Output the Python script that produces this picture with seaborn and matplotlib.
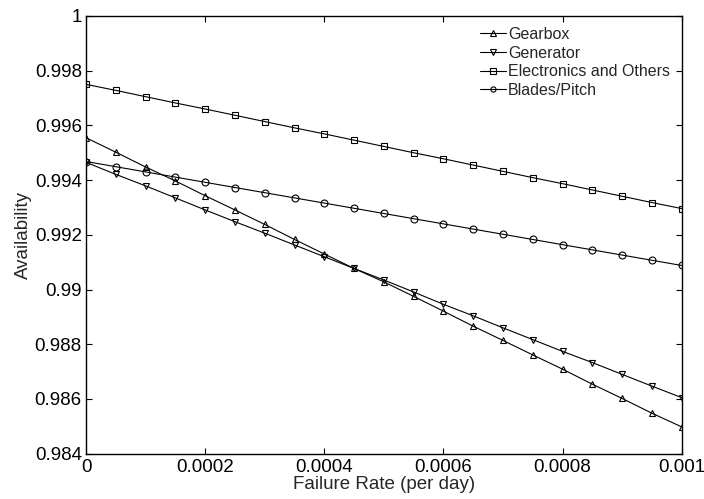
import numpy as np
import pandas as pd
import matplotlib
matplotlib.use("Agg")
import matplotlib.pyplot as plt
import seaborn as sns

# Failure rate (per day)
failure_rate = [0.0, 0.00005, 0.0001, 0.00015, 0.0002, 0.00025, 0.0003, 0.00035,
                0.0004, 0.00045, 0.0005, 0.00055, 0.0006, 0.00065, 0.0007, 0.00075,
                0.0008, 0.00085, 0.0009, 0.00095, 0.001]

gearbox = [0.99555, 0.99502, 0.99448, 0.99397, 0.99343, 0.99291, 0.99238, 0.99183,
           0.99130, 0.99077, 0.99028, 0.98975, 0.98921, 0.98866, 0.98814, 0.98761,
           0.98709, 0.98654, 0.98602, 0.98548, 0.98498]
generator = [0.99465, 0.99421, 0.99379, 0.99335, 0.99291, 0.99248, 0.99206, 0.99163,
             0.99120, 0.99077, 0.99035, 0.98991, 0.98946, 0.98904, 0.98860, 0.98817,
             0.98774, 0.98733, 0.98690, 0.98647, 0.98605]
electronics = [0.99750, 0.99728, 0.99705, 0.99682, 0.99660, 0.99637, 0.99614, 0.99591,
               0.99569, 0.99546, 0.99523, 0.99500, 0.99478, 0.99455, 0.99432, 0.99409,
               0.99387, 0.99364, 0.99341, 0.99318, 0.99296]
blades = [0.99468, 0.99449, 0.99430, 0.99411, 0.99392, 0.99373, 0.99354, 0.99335,
          0.99316, 0.99297, 0.99278, 0.99259, 0.99240, 0.99221, 0.99202, 0.99183,
          0.99164, 0.99145, 0.99126, 0.99107, 0.99088]

series_names = ["Gearbox", "Generator", "Electronics and Others", "Blades/Pitch"]
series_values = [gearbox, generator, electronics, blades]
series_markers = ["^", "v", "s", "o"]

x_ticks = [0, 0.0002, 0.0004, 0.0006, 0.0008, 0.001]
x_tick_labels = ["0", "0.0002", "0.0004", "0.0006", "0.0008", "0.001"]
y_ticks = [0.984, 0.986, 0.988, 0.99, 0.992, 0.994, 0.996, 0.998, 1.0]
y_tick_labels = ["0.984", "0.986", "0.988", "0.99", "0.992", "0.994", "0.996", "0.998", "1"]

sns.set_style("ticks")
plt.rcParams["font.family"] = ["Liberation Sans", "DejaVu Sans"]
plt.rcParams["font.size"] = 13.5

fig = plt.figure(figsize=(7.04, 4.99), dpi=100)
ax = fig.add_axes([0.1222, 0.0908, 0.8461, 0.8772])

df = pd.DataFrame({
    "rate": np.tile(failure_rate, len(series_names)),
    "availability": np.concatenate(series_values),
    "component": np.repeat(series_names, len(failure_rate)),
})

for name, mk in zip(series_names, series_markers):
    sub = df[df["component"] == name]
    sns.lineplot(data=sub, x="rate", y="availability", ax=ax, color="black",
                 linewidth=0.8, marker=mk, markersize=5.0,
                 markerfacecolor="none", markeredgecolor="black",
                 markeredgewidth=0.8, label=name, legend=False)

ax.set_xlim(0, 0.001)
ax.set_ylim(0.984, 1.0)
ax.set_xticks(x_ticks)
ax.set_xticklabels(x_tick_labels)
ax.set_yticks(y_ticks)
ax.set_yticklabels(y_tick_labels)
ax.tick_params(axis="x", pad=4)
ax.tick_params(axis="y", pad=3)
ax.tick_params(direction="in", length=4, width=0.8, top=True, right=True,
               labelsize=13.5, colors="black")
for sp in ax.spines.values():
    sp.set_visible(True)
    sp.set_color("black")
    sp.set_linewidth(1.0)

ax.set_xlabel("Failure Rate (per day)", fontsize=13.5, labelpad=0)
ax.set_ylabel("Availability", fontsize=13.5, labelpad=2)

handles, labels = ax.get_legend_handles_labels()
ax.legend(handles, labels, loc="upper left", bbox_to_anchor=(480 / 704, 1 - 27 / 499),
          bbox_transform=fig.transFigure, frameon=False, fontsize=11.5,
          handlelength=1.6, handletextpad=0.15, labelspacing=0.23,
          markerscale=0.75, borderpad=0, borderaxespad=0)

fig.savefig("out.png", dpi=100)
